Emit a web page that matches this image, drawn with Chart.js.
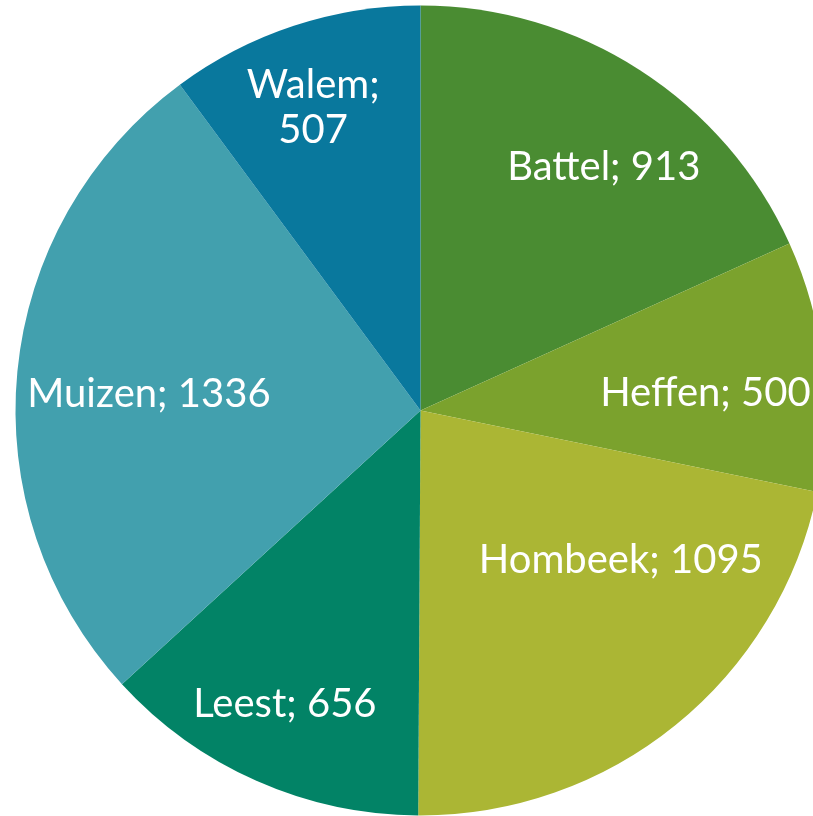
<!DOCTYPE html>
<html>
<head>
<meta charset="utf-8">
<script src="https://cdn.jsdelivr.net/npm/chart.js@4"></script>
<style>
    html, body { margin: 0; padding: 0; background: #fff; overflow: hidden; }
    #wrap { position: absolute; left: 0; top: 0; width: 841px; height: 821px; }
</style>
</head>
<body>
<div id="wrap"><canvas id="pieChart"></canvas></div>
<script>
// Deelgemeenten en aantallen
const labels = ['Battel', 'Heffen', 'Hombeek', 'Leest', 'Muizen', 'Walem'];
const values = [913, 500, 1095, 656, 1336, 507];
const colors = ['#4a8c32', '#7ba22d', '#abb634', '#028366', '#42a0ae', '#09789d'];

// where each label sits: fraction of radius, shift from mid angle (deg), lines
const labelPlace = [
    { r: 0.755, shift: 4, split: false },
    { r: 0.705, shift: 2.6, split: false },
    { r: 0.615, shift: -14.5, split: false },
    { r: 0.795, shift: 1, split: false },
    { r: 0.672, shift: -1.7, split: false },
    { r: 0.797, shift: -1.2, split: true }
];

const sliceLabels = {
    id: 'sliceLabels',
    afterDatasetsDraw(chart) {
        const ctx = chart.ctx;
        const meta = chart.getDatasetMeta(0);
        const size = 40;
        ctx.save();
        ctx.fillStyle = '#ffffff';
        ctx.font = size + 'px Lato';
        ctx.textAlign = 'center';
        ctx.textBaseline = 'alphabetic';
        meta.data.forEach((arc, i) => {
            const p = labelPlace[i];
            const mid = (arc.startAngle + arc.endAngle) / 2 + p.shift * Math.PI / 180;
            const rad = arc.outerRadius * p.r;
            const x = arc.x + Math.cos(mid) * rad;
            const y = arc.y + Math.sin(mid) * rad;
            const capHalf = size * 0.36;
            if (p.split) {
                ctx.fillText(labels[i] + ';', x, y - 22.5 + capHalf);
                ctx.fillText(String(values[i]), x, y + 22.5 + capHalf);
            } else {
                ctx.fillText(labels[i] + '; ' + values[i], x, y + capHalf);
            }
        });
        ctx.restore();
    }
};

document.addEventListener('DOMContentLoaded', () => {
    new Chart(document.getElementById('pieChart'), {
        type: 'pie',
        data: {
            labels: labels,
            datasets: [{
                data: values,
                backgroundColor: colors,
                borderWidth: 0
            }]
        },
        options: {
            responsive: true,
            maintainAspectRatio: false,
            animation: false,
            layout: { padding: 5.5 },
            plugins: {
                legend: { display: false },
                tooltip: { enabled: false }
            }
        },
        plugins: [sliceLabels]
    });
});
</script>
</body>
</html>
